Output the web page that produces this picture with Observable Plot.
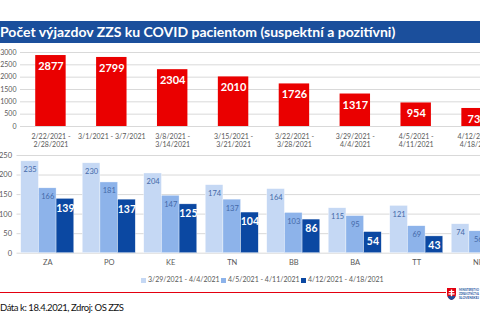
<!DOCTYPE html>
<html>
<head>
<meta charset="utf-8">
<script src="https://cdn.jsdelivr.net/npm/d3@7"></script>
<script src="https://cdn.jsdelivr.net/npm/@observablehq/plot@0.6"></script>
<style>
  html, body { margin: 0; padding: 0; background: #fff; }
  #page { position: relative; width: 480px; height: 323px; overflow: hidden; font-family: Lato, "Open Sans", sans-serif; }
  #titlebar { position: absolute; left: 0; top: 21px; width: 480px; height: 22px; background: #1b4f9c; }
  #title { position: absolute; left: 0px; top: 0; line-height: 22px; color: #fff; font-weight: bold; font-size: 14px; white-space: nowrap; }
  .chart { position: absolute; left: 0; width: 520px; }
  .chart svg { max-width: none !important; }
  #legend { position: absolute; top: 275px; left: 0; width: 480px; height: 10px; font-size: 7px; color: #595959; }
  .item { position: absolute; top: 0; white-space: nowrap; line-height: 8px; }
  .sw { display: inline-block; width: 5px; height: 5px; margin-right: 2px; vertical-align: -0.5px; }
  #redline { position: absolute; left: 0; top: 291.5px; width: 446px; height: 1.3px; background: #e3000f; }
  #footer { position: absolute; left: 0; top: 302px; font-size: 9.5px; letter-spacing: -0.45px; color: #111; white-space: nowrap; }
  #logo { position: absolute; left: 446px; top: 287px; }
</style>
</head>
<body>
<div id="page">
  <div id="titlebar"><div id="title">Počet výjazdov ZZS ku COVID pacientom (suspektní a pozitívni)</div></div>
  <div id="topChart" class="chart" style="top:44px"></div>
  <div id="bottomChart" class="chart" style="top:145px"></div>
  <div id="legend"></div>
  <div id="redline"></div>
  <svg id="logo" width="34" height="14">
    <path d="M1,1 H10 V7 Q10,11.5 5.5,13 Q1,11.5 1,7 Z" fill="#e3000f"/>
    <path d="M4.8,2.5 h1.4 v1.5 h2 v1.1 h-2 v1.2 h2.4 v1.1 h-2.4 v2 h-1.4 v-2 h-2.4 v-1.1 h2.4 v-1.2 h-2 v-1.1 h2 z" fill="#fff"/>
    <path d="M1.6,9.5 Q3.5,8 5.5,9.5 Q7.5,8 9.4,9.5 Q8.5,12 5.5,13 Q2.5,12 1.6,9.5 Z" fill="#1b4f9c"/>
    <text x="13" y="4" font-size="3" fill="#1b4f9c" font-family="Lato" font-weight="bold" textLength="20" lengthAdjust="spacingAndGlyphs">MINISTERSTVO</text>
    <text x="13" y="8" font-size="3" fill="#1b4f9c" font-family="Lato" font-weight="bold" textLength="20" lengthAdjust="spacingAndGlyphs">ZDRAVOTNÍCTVA</text>
    <text x="13" y="12" font-size="3" fill="#1b4f9c" font-family="Lato" font-weight="bold" textLength="20" lengthAdjust="spacingAndGlyphs">SLOVENSKEJ</text>
  </svg>
  <div id="footer">Dáta k: 18.4.2021, Zdroj: OS ZZS</div>
</div>
<script>
// ---- Data ----
const weeks = [
  "2/22/2021 -\n2/28/2021",
  "3/1/2021 - 3/7/2021",
  "3/8/2021 -\n3/14/2021",
  "3/15/2021 -\n3/21/2021",
  "3/22/2021 -\n3/28/2021",
  "3/29/2021 -\n4/4/2021",
  "4/5/2021 -\n4/11/2021",
  "4/12/2021 -\n4/18/2021"
];
const weeklyTotals = [2877, 2799, 2304, 2010, 1726, 1317, 954, 731];
const topTicks = [0, 500, 1000, 1500, 2000, 2500, 3000];

const regions = ["ZA", "PO", "KE", "TN", "BB", "BA", "TT", "NR"];
const seriesNames = ["3/29/2021 - 4/4/2021", "4/5/2021 - 4/11/2021", "4/12/2021 - 4/18/2021"];
const week1 = [235, 230, 204, 174, 164, 115, 121, 74];
const week2 = [166, 181, 147, 137, 103, 95, 69, 56];
const week3 = [139, 137, 125, 104, 86, 54, 43, 45];
const bottomTicks = [0, 50, 100, 150, 200, 250];

const seriesColors = ["#c5d8f4", "#8db3ea", "#0b48a2"];
const labelColors = ["#4469a8", "#4469a8", "#ffffff"];

const FONT = "Lato, 'Open Sans', sans-serif";
const GRID = "#d9d9d9";
const AXIS_TXT = "#595959";

// ---- Top chart ----
const topData = weeks.map((w, i) => ({week: w, value: weeklyTotals[i]}));
const topPlot = Plot.plot({
  width: 520, height: 110,
  marginLeft: 20, marginRight: 13, marginTop: 8, marginBottom: 28,
  style: {fontFamily: FONT, fontSize: "7px", color: AXIS_TXT, background: "transparent", maxWidth: "none"},
  x: {domain: weeks, paddingInner: 0.5, paddingOuter: 0.25, axis: null, round: false},
  y: {domain: [0, 3000], ticks: topTicks, tickFormat: d => String(d), tickSize: 0, tickPadding: 4, label: null, grid: false},
  marks: [
    Plot.ruleY(topTicks, {stroke: GRID, strokeWidth: 1}),
    Plot.barY(topData, {x: "week", y: "value", fill: "#ea0000"}),
    Plot.text(topData, {x: "week", y: "value", text: d => String(d.value), dy: 11, fill: "#fff", fontWeight: "bold", fontSize: 11}),
    Plot.text(topData, {x: "week", text: "week", frameAnchor: "bottom", lineAnchor: "top", dy: 7, lineHeight: 1.15, fill: AXIS_TXT, fontSize: 7})
  ]
});
document.getElementById("topChart").appendChild(topPlot);

// ---- Bottom chart ----
const seriesValues = [week1, week2, week3];
const rows = [];
seriesValues.forEach((vals, s) => regions.forEach((r, i) => rows.push({region: r, series: s, value: vals[i]})));

const W = 520, mL = 16.5, mR = 11.5;
const pIn = 0.138, pOut = 0.069;
const band = d3.scaleBand().domain(regions).range([mL, W - mR]).paddingInner(pIn).paddingOuter(pOut);
const sub = band.bandwidth() / 3;

const barMarks = [];
const labelMarks = [];
seriesNames.forEach((name, s) => {
  const d = rows.filter(r => r.series === s);
  barMarks.push(Plot.barY(d, {
    x: "region", y: "value", fill: seriesColors[s],
    stroke: "#ffffff", strokeWidth: 0.5, strokeOpacity: 0.7,
    insetLeft: s * sub, insetRight: (2 - s) * sub
  }));
  labelMarks.push(Plot.text(d, {
    x: "region", y: "value", text: r => String(r.value),
    dx: (s - 1) * sub, dy: s === 2 ? 9.5 : 8.5,
    fill: labelColors[s],
    fontWeight: s === 2 ? "bold" : "normal",
    fontSize: s === 2 ? 10.5 : 7.5
  }));
});

const bottomPlot = Plot.plot({
  width: W, height: 125,
  marginLeft: mL, marginRight: mR, marginTop: 10, marginBottom: 17.3,
  style: {fontFamily: FONT, fontSize: "7.5px", color: AXIS_TXT, background: "transparent", maxWidth: "none"},
  x: {domain: regions, paddingInner: pIn, paddingOuter: pOut, round: false, tickSize: 0, tickPadding: 6, label: null},
  y: {domain: [0, 250], ticks: bottomTicks, tickSize: 0, tickPadding: 5, label: null},
  marks: [
    Plot.ruleY(bottomTicks, {stroke: GRID, strokeWidth: 1}),
    ...barMarks,
    ...labelMarks
  ]
});
document.getElementById("bottomChart").appendChild(bottomPlot);

// ---- Legend ----
const legendX = [141, 221, 301];
const legend = document.getElementById("legend");
seriesNames.forEach((name, s) => {
  const item = document.createElement("div");
  item.className = "item";
  item.style.left = legendX[s] + "px";
  item.innerHTML = `<span class="sw" style="background:${seriesColors[s]}"></span>${name}`;
  legend.appendChild(item);
});
</script>
</body>
</html>
